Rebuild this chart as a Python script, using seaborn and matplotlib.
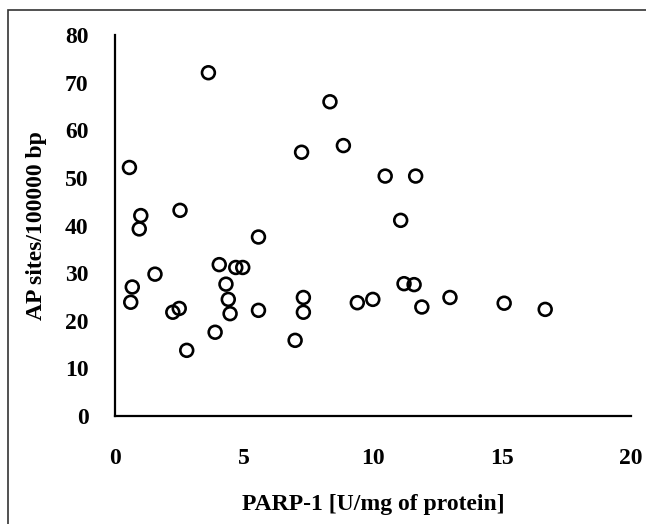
import matplotlib
matplotlib.use("Agg")
import matplotlib.pyplot as plt
import seaborn as sns
import pandas as pd
from matplotlib.patches import Rectangle

parp1 = [0.61, 0.67, 1.55, 2.24, 2.49, 2.78, 3.88, 4.04, 4.30, 4.39, 4.46, 4.68, 4.95,
         5.56, 6.98, 7.30, 7.30, 9.39, 9.99, 11.20, 11.59, 11.89, 12.98, 15.08, 16.67,
         3.62, 0.56, 1.00, 0.94, 2.52, 5.56, 7.23, 8.33, 8.85, 10.47, 11.65, 11.07]
ap_sites = [23.9, 27.1, 29.8, 21.8, 22.6, 13.8, 17.6, 31.8, 27.7, 24.5, 21.5, 31.2, 31.2,
            22.2, 15.9, 24.9, 21.8, 23.8, 24.5, 27.8, 27.6, 22.9, 24.9, 23.7, 22.4,
            72.1, 52.2, 42.1, 39.3, 43.2, 37.6, 55.4, 66.0, 56.8, 50.4, 50.4, 41.1]
x_ticks = [0, 5, 10, 15, 20]
y_ticks = [0, 10, 20, 30, 40, 50, 60, 70, 80]
x_label = "PARP-1 [U/mg of protein]"
y_label = "AP sites/100000 bp"

df = pd.DataFrame({"x": parp1, "y": ap_sites})

sns.set_style("white")
plt.rcParams["font.family"] = ["Liberation Serif", "DejaVu Serif"]
plt.rcParams["font.weight"] = "bold"
plt.rcParams["text.color"] = "black"
plt.rcParams["axes.labelcolor"] = "black"
plt.rcParams["xtick.color"] = "black"
plt.rcParams["ytick.color"] = "black"

fig = plt.figure(figsize=(6.46, 5.24), dpi=100)
ax = fig.add_axes([0.178, 0.206, 0.799, 0.727])

sns.scatterplot(data=df, x="x", y="y", ax=ax, marker="o", s=85,
                facecolors="none", edgecolor="black", linewidth=1.9)

ax.set_xlim(0, 20)
ax.set_ylim(0, 80)
ax.set_xticks(x_ticks)
ax.set_yticks(y_ticks)
ax.set_xticklabels([str(t) for t in x_ticks], fontsize=17, fontweight="bold", color="black")
ax.set_yticklabels([str(t) for t in y_ticks], fontsize=17, fontweight="bold", color="black")
ax.tick_params(axis="x", direction="out", length=6, width=1.5, pad=17, colors="black")
ax.tick_params(axis="y", direction="out", length=6, width=1.5, pad=13, colors="black")
for side in ["top", "right"]:
    ax.spines[side].set_visible(False)
for side in ["left", "bottom"]:
    ax.spines[side].set_color("black")
    ax.spines[side].set_linewidth(1.6)

ax.set_xlabel(x_label, fontsize=17, fontweight="bold", labelpad=18, color="black")
ax.set_ylabel(y_label, fontsize=17, fontweight="bold", labelpad=13, color="black")

# outer frame (only left and top visible in reference)
fig.patches.append(Rectangle((8 / 646, -0.1), 1.2, 1 - 10 / 524 + 0.1,
                             transform=fig.transFigure, fill=False,
                             edgecolor="#333333", linewidth=1.2))

fig.savefig("out.png", dpi=100)
